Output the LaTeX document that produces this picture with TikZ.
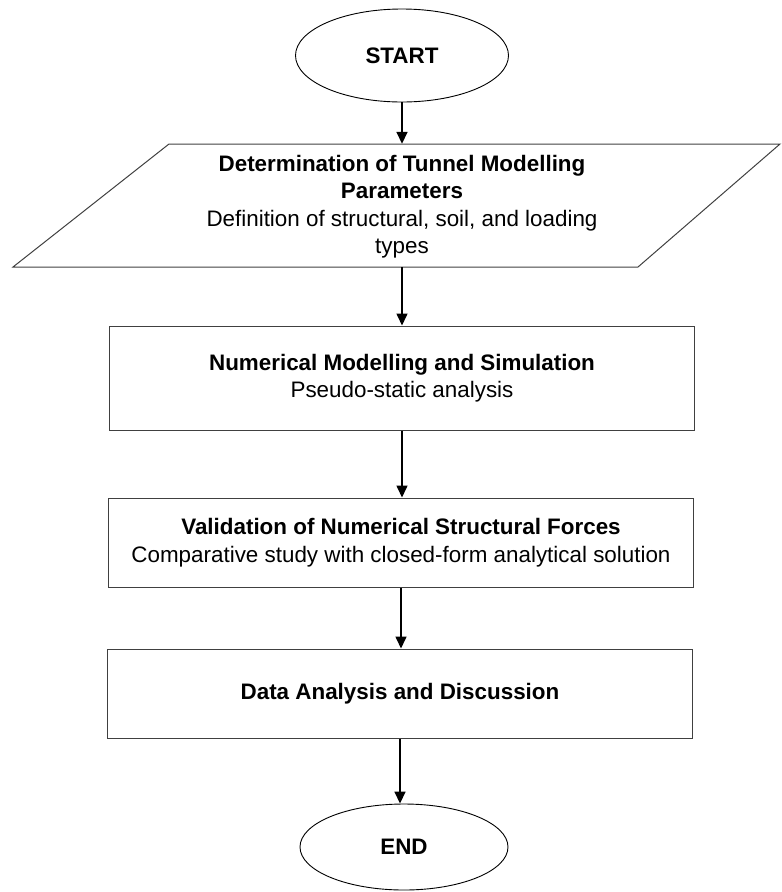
\documentclass[tikz,border=0pt]{standalone}
\usepackage{fontspec}
\setmainfont{Liberation Sans}
\usetikzlibrary{arrows.meta,shapes.geometric}
\begin{document}
\begin{tikzpicture}[x=1pt,y=-1pt,
  every node/.style={font=\fontsize{22.4}{27.5}\selectfont, align=center, inner sep=0pt},
  boxnode/.style={draw=black!75, line width=1pt, minimum width=585pt},
  oval/.style={draw, ellipse, line width=0.9pt},
  flow/.style={-{Triangle[length=12pt,width=11pt]}, line width=1.6pt}]
\useasboundingbox (0,0) rectangle (782,892);
\node[oval, minimum width=213pt, minimum height=93pt] (start) at (402,55.5) {\textbf{START}};
\draw[draw=black!75, line width=1pt] (169,144) -- (780,144) -- (638,267) -- (13,267) -- cycle;
\node[minimum width=400pt, minimum height=123pt] (para) at (402,205.5) {};
\node (paratext) at (402,206.5)
  {\textbf{Determination of Tunnel Modelling}\\\textbf{Parameters}\\Definition of structural, soil, and loading\\types};
\node[boxnode, minimum height=104pt] (model) at (402,378)
  {\textbf{Numerical Modelling and Simulation}\\Pseudo-static analysis};
\node[boxnode, minimum height=89pt] (valid) at (401,542.5)
  {\textbf{Validation of Numerical Structural Forces}\\Comparative study with closed-form analytical solution};
\node[boxnode, minimum height=89pt] (data) at (400,693.5)
  {\textbf{Data Analysis and Discussion}};
\node[oval, minimum width=208pt, minimum height=86pt] (end) at (404,847) {\textbf{END}};
\draw[flow] (start.south) -- (para.north);
\draw[flow] (para.south) -- (para.south |- model.north);
\draw[flow] (model.south) -- (model.south |- valid.north);
\draw[flow] (valid.south) -- (valid.south |- data.north);
\draw[flow] (data.south) -- (data.south |- end.north);
\end{tikzpicture}
\end{document}
